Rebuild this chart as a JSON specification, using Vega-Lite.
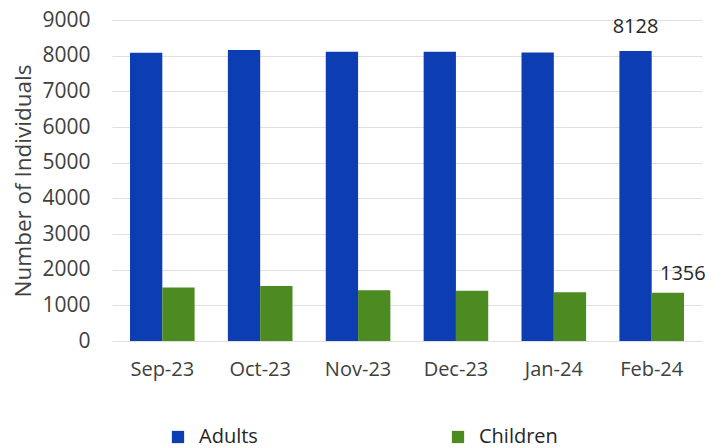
{
  "$schema": "https://vega.github.io/schema/vega-lite/v6.json",
  "width": 590,
  "height": 321,
  "autosize": {"type": "none"},
  "padding": {"left": 112, "top": 20, "right": 10, "bottom": 107},
  "background": "white",
  "config": {
    "font": "Open Sans",
    "view": {"stroke": null},
    "axis": {"labelFont": "Open Sans", "titleFont": "Open Sans", "labelColor": "#404040", "titleColor": "#404040"},
    "legend": {"labelFont": "Open Sans"}
  },
  "data": {
    "values": [
      {"month": "Sep-23", "group": "Adults", "count": 8080},
      {"month": "Sep-23", "group": "Children", "count": 1500},
      {"month": "Oct-23", "group": "Adults", "count": 8156},
      {"month": "Oct-23", "group": "Children", "count": 1540},
      {"month": "Nov-23", "group": "Adults", "count": 8108},
      {"month": "Nov-23", "group": "Children", "count": 1420},
      {"month": "Dec-23", "group": "Adults", "count": 8108},
      {"month": "Dec-23", "group": "Children", "count": 1410},
      {"month": "Jan-24", "group": "Adults", "count": 8090},
      {"month": "Jan-24", "group": "Children", "count": 1370},
      {"month": "Feb-24", "group": "Adults", "count": 8128},
      {"month": "Feb-24", "group": "Children", "count": 1356}
    ]
  },
  "encoding": {
    "x": {
      "field": "month", "type": "nominal", "sort": null,
      "scale": {"paddingInner": 0.34, "paddingOuter": 0.184},
      "axis": {"title": null, "labelAngle": 0, "labelFontSize": 20, "ticks": false, "domain": false, "labelPadding": 18}
    },
    "xOffset": {"field": "group", "type": "nominal", "scale": {"padding": 0}},
    "y": {
      "field": "count", "type": "quantitative",
      "scale": {"domain": [0, 9000], "nice": false},
      "axis": {"title": "Number of Individuals", "titleFontSize": 22.5, "titleFontWeight": "normal", "titlePadding": 6,
               "values": [0,1000,2000,3000,4000,5000,6000,7000,8000,9000], "format": "d",
               "labelFontSize": 21, "ticks": false, "domain": false, "labelPadding": 22,
               "gridColor": "#e0e0e0", "gridWidth": 1}
    }
  },
  "layer": [
    {
      "mark": {"type": "bar"},
      "encoding": {
        "color": {
          "field": "group", "type": "nominal",
          "scale": {"domain": ["Adults", "Children"], "range": ["#0c3db2", "#4c8a22"]},
          "legend": {
            "title": null, "orient": "none", "direction": "horizontal",
            "legendX": 56, "legendY": 407,
            "symbolType": "square", "symbolSize": 150, "symbolStrokeWidth": 0,
            "labelFontSize": 20, "labelColor": "#262626", "labelOffset": 11,
            "columnPadding": 190
          }
        }
      }
    },
    {
      "transform": [{"filter": "datum.month == 'Feb-24' && datum.group == 'Adults'"}],
      "mark": {"type": "text", "fontSize": 20, "color": "#262626", "baseline": "alphabetic", "dy": -18},
      "encoding": {"text": {"field": "count", "type": "quantitative"}}
    },
    {
      "transform": [{"filter": "datum.month == 'Feb-24' && datum.group == 'Children'"}],
      "mark": {"type": "text", "fontSize": 20, "color": "#262626", "baseline": "alphabetic", "dy": -13, "dx": 15},
      "encoding": {"text": {"field": "count", "type": "quantitative"}}
    }
  ]
}
